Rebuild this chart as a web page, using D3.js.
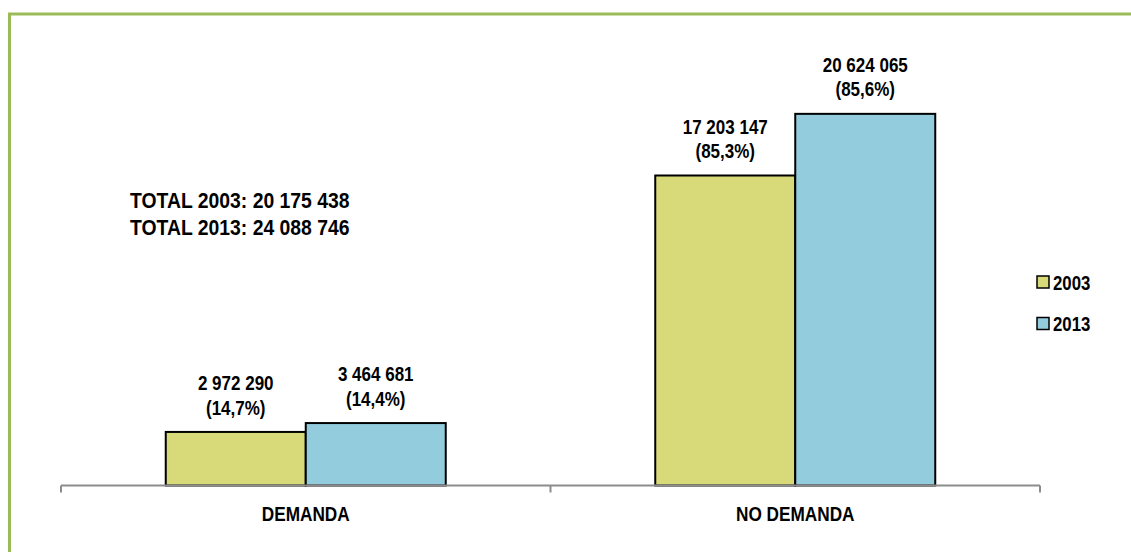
<!DOCTYPE html>
<html>
<head>
<meta charset="utf-8">
<script src="https://cdn.jsdelivr.net/npm/d3@7"></script>
<style>
  html, body { margin: 0; padding: 0; background: #fff; }
  svg text { font-family: "Liberation Sans Narrow", "Arial Narrow", "Liberation Sans", Arial, sans-serif; font-weight: bold; fill: #000; }
</style>
</head>
<body>
<svg id="chart" width="1131" height="552"></svg>
<script>
// Population by demand status, 2003 vs 2013
const categories = ["DEMANDA", "NO DEMANDA"];
const years = ["2003", "2013"];
const values2003 = [2972290, 17203147];
const values2013 = [3464681, 20624065];
const totals = [20175438, 24088746];
const colors = ["#D8DA79", "#93CDDD"];
const yMax = 25000000;

const svg = d3.select("#chart");
const W = 1131, H = 552;

// condensed bold text: the glyphs are squeezed horizontally around the anchor
function label(parent, px, py, str, size, sx, anchor) {
  const g = parent.append("g").attr("transform", `translate(${px},${py}) scale(${sx},1)`);
  g.append("text")
    .attr("text-anchor", anchor || "middle")
    .attr("dominant-baseline", "central")
    .attr("font-size", size)
    .text(str);
  return g;
}

// frame (top and left edges)
svg.append("path")
  .attr("d", `M9.5,${H} L9.5,14 L${W},14`)
  .attr("fill", "none")
  .attr("stroke", "#9BBB59")
  .attr("stroke-width", 3);

const plot = { left: 61, right: 1040, top: 35, bottom: 485.5 };

const x = d3.scaleBand()
  .domain(categories)
  .range([plot.left, plot.right])
  .paddingInner(0.428)
  .paddingOuter(0.214);

const xs = d3.scaleBand()
  .domain(years)
  .range([0, x.bandwidth()]);

const y = d3.scaleLinear()
  .domain([0, yMax])
  .range([plot.bottom, plot.top]);

const loc = d3.formatLocale({ decimal: ",", thousands: " ", grouping: [3], currency: ["", ""] });
const fmtN = loc.format(",d");
const fmtP = loc.format(".1f");

const series = [values2003, values2013];
const rows = [];
categories.forEach((c, i) => {
  years.forEach((yr, j) => {
    rows.push({ cat: c, year: yr, j, value: series[j][i], total: totals[j] });
  });
});

// bars
svg.append("g").selectAll("rect")
  .data(rows)
  .join("rect")
  .attr("x", d => x(d.cat) + xs(d.year))
  .attr("y", d => y(d.value))
  .attr("width", xs.bandwidth())
  .attr("height", d => y(0) - y(d.value))
  .attr("fill", d => colors[d.j])
  .attr("stroke", "#000")
  .attr("stroke-width", 2);

// axis line with ticks at band boundaries
const axisG = svg.append("g");
axisG.append("line")
  .attr("x1", plot.left).attr("x2", plot.right)
  .attr("y1", plot.bottom).attr("y2", plot.bottom)
  .attr("stroke", "#8C8C8C").attr("stroke-width", 2);
const tickXs = [plot.left, (x("DEMANDA") + x.bandwidth() + x("NO DEMANDA")) / 2, plot.right];
axisG.selectAll("line.tick")
  .data(tickXs)
  .join("line")
  .attr("class", "tick")
  .attr("x1", d => d).attr("x2", d => d)
  .attr("y1", plot.bottom).attr("y2", plot.bottom + 7)
  .attr("stroke", "#8C8C8C").attr("stroke-width", 2);

// category labels
const catG = svg.append("g");
categories.forEach(c => label(catG, x(c) + x.bandwidth() / 2, plot.bottom + 28, c, 20.5, 0.84));

// value labels
const valG = svg.append("g");
rows.forEach(d => {
  const cx = x(d.cat) + xs(d.year) + xs.bandwidth() / 2;
  const top = y(d.value);
  label(valG, cx, top - 49, fmtN(d.value), 21, 0.81);
  label(valG, cx, top - 24.5, `(${fmtP(d.value / d.total * 100)}%)`, 21, 0.81);
});

// totals note
const totG = svg.append("g");
years.forEach((yr, i) => label(totG, 130, 200 + i * 27, `TOTAL ${yr}: ${fmtN(totals[i])}`, 22, 0.88, "start"));

// legend
const leg = svg.append("g");
years.forEach((yr, i) => {
  const gy = 276 + i * 41.5;
  leg.append("rect")
    .attr("x", 1037).attr("y", gy)
    .attr("width", 12).attr("height", 12)
    .attr("fill", colors[i])
    .attr("stroke", "#000").attr("stroke-width", 1.5);
  label(leg, 1053, gy + 6.5, yr, 21, 0.8, "start");
});
</script>
</body>
</html>
